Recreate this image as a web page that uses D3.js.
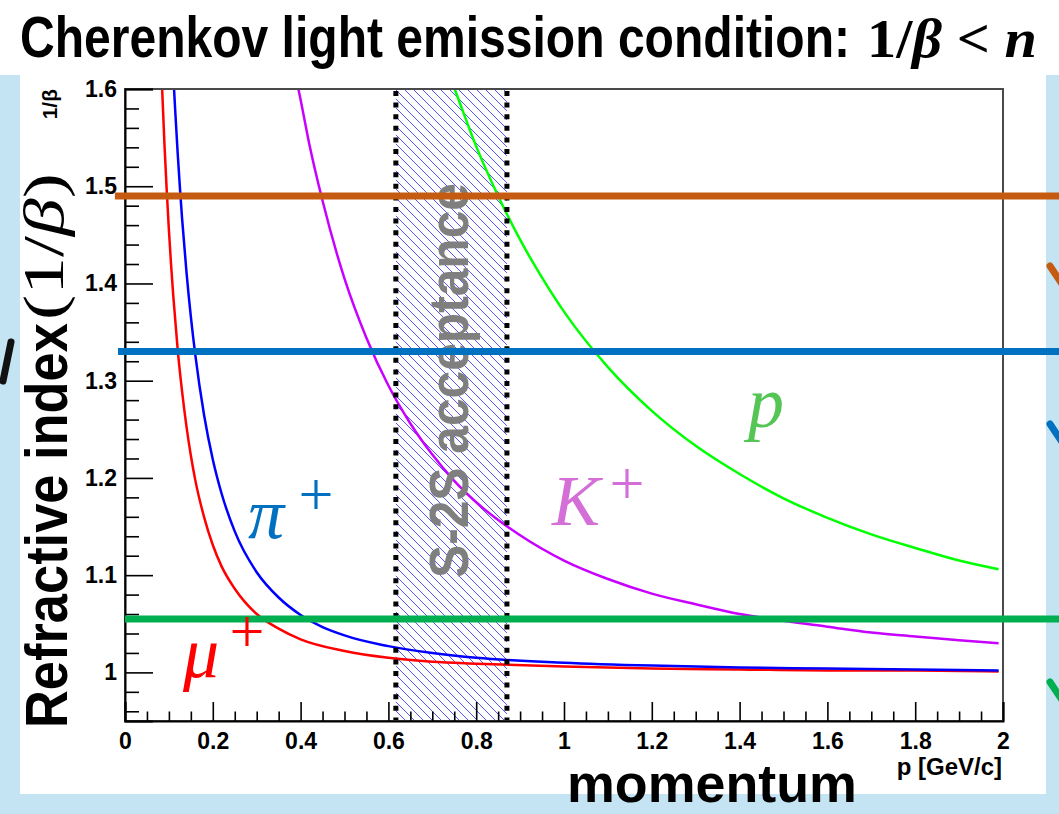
<!DOCTYPE html>
<html>
<head>
<meta charset="utf-8">
<script src="https://cdn.jsdelivr.net/npm/d3@7"></script>
<style>
  html, body { margin: 0; padding: 0; background: #fff; }
  svg { display: block; }
</style>
</head>
<body>
<svg id="chart" width="1059" height="814"></svg>
<script>
// ---- data: momentum p [GeV/c] and 1/beta for each particle ----
const muonCurve = [[0.0846,1.600],[0.09,1.542],[0.095,1.496],[0.10,1.455],[0.105,1.419],[0.11,1.387],[0.12,1.332],[0.13,1.289],[0.14,1.253],[0.15,1.223],[0.16,1.198],[0.18,1.160],[0.20,1.131],[0.22,1.109],[0.25,1.086],[0.30,1.060],[0.35,1.045],[0.40,1.034],[0.50,1.022],[0.60,1.015],[0.70,1.011],[0.80,1.009],[1.00,1.006],[1.20,1.004],[1.40,1.003],[1.60,1.002],[1.80,1.002],[1.99,1.001]];
const pionCurve = [[0.1117,1.600],[0.115,1.573],[0.12,1.534],[0.125,1.499],[0.13,1.467],[0.14,1.412],[0.15,1.366],[0.16,1.327],[0.18,1.265],[0.20,1.219],[0.22,1.184],[0.25,1.145],[0.30,1.103],[0.35,1.077],[0.40,1.059],[0.50,1.038],[0.60,1.027],[0.70,1.020],[0.80,1.015],[1.00,1.010],[1.20,1.007],[1.40,1.005],[1.60,1.004],[1.80,1.003],[1.99,1.002]];
const kaonCurve = [[0.395,1.600],[0.40,1.589],[0.42,1.543],[0.45,1.485],[0.50,1.405],[0.55,1.344],[0.60,1.295],[0.65,1.256],[0.70,1.224],[0.75,1.197],[0.80,1.175],[0.90,1.141],[1.00,1.115],[1.10,1.096],[1.20,1.081],[1.30,1.070],[1.40,1.060],[1.50,1.053],[1.60,1.047],[1.70,1.041],[1.80,1.037],[1.90,1.033],[1.99,1.030]];
const protonCurve = [[0.751,1.600],[0.76,1.589],[0.80,1.541],[0.85,1.490],[0.90,1.445],[0.95,1.406],[1.00,1.371],[1.10,1.314],[1.20,1.269],[1.30,1.233],[1.40,1.204],[1.50,1.179],[1.60,1.159],[1.70,1.142],[1.80,1.128],[1.90,1.115],[1.99,1.106]];

const curveNames  = ["mu", "pi", "K", "p"];
const curveColors = ["#ff0000", "#0000ff", "#c800ff", "#00ff00"];

// refractive indices of the radiators (horizontal bars)
const refIndex  = [1.49, 1.33, 1.055];
const refColors = ["#c55a11", "#0070c0", "#00b050"];
const refStartP = [-0.023, -0.016, 0.0];

// S-2S momentum acceptance
const acceptance = [0.617, 0.870];

// axis ticks
const xTicks      = [0, 0.2, 0.4, 0.6, 0.8, 1.0, 1.2, 1.4, 1.6, 1.8, 2.0];
const xTickLabels = ["0", "0.2", "0.4", "0.6", "0.8", "1", "1.2", "1.4", "1.6", "1.8", "2"];
const yTicks      = [1.0, 1.1, 1.2, 1.3, 1.4, 1.5, 1.6];
const yTickLabels = ["1", "1.1", "1.2", "1.3", "1.4", "1.5", "1.6"];

// ---- layout ----
const W = 1059, H = 814;
const plot = { left: 125, right: 1003, top: 89, bottom: 721 };

const svg = d3.select("#chart");
const x = d3.scaleLinear().domain([0, 2]).range([plot.left, plot.right]);
const y = d3.scaleLinear().domain([0.95, 1.6]).range([plot.bottom, plot.top]);

// squeeze a text along its own baseline to a given length
function fitText(sel, base, target) {
  const w = sel.node().getComputedTextLength();
  sel.attr("transform", `${base} scale(${(target / w).toFixed(4)},1)`);
}

// page background: white with a light-blue frame around the figure panel
svg.append("rect").attr("x", 0).attr("y", 0).attr("width", W).attr("height", H).attr("fill", "#ffffff");
svg.append("rect").attr("x", 0).attr("y", 75).attr("width", W).attr("height", H - 75).attr("fill", "#c4e3f3");
svg.append("rect").attr("x", 20).attr("y", 60).attr("width", 1026).attr("height", 734).attr("fill", "#ffffff");

const defs = svg.append("defs");
defs.append("clipPath").attr("id", "plotClip")
  .append("rect")
  .attr("x", plot.left).attr("y", plot.top)
  .attr("width", plot.right - plot.left).attr("height", plot.bottom - plot.top);

const hatch = defs.append("pattern")
  .attr("id", "hatch")
  .attr("patternUnits", "userSpaceOnUse")
  .attr("width", 9).attr("height", 9);
hatch.append("path")
  .attr("d", "M-1,-1 L10,10 M-1,8 L1,10 M8,-1 L10,1")
  .attr("stroke", "#5555ff").attr("stroke-width", 1).attr("fill", "none");

// acceptance band
svg.append("rect")
  .attr("x", x(acceptance[0])).attr("y", plot.top)
  .attr("width", x(acceptance[1]) - x(acceptance[0]))
  .attr("height", plot.bottom - plot.top)
  .attr("fill", "url(#hatch)");

// 1/beta curves
const line = d3.line()
  .x(d => x(d[0])).y(d => y(d[1]))
  .curve(d3.curveMonotoneX);
const curves = [muonCurve, pionCurve, kaonCurve, protonCurve];
const curveLayer = svg.append("g").attr("clip-path", "url(#plotClip)");
curves.forEach((c, i) => {
  curveLayer.append("path")
    .attr("class", "curve-" + curveNames[i])
    .attr("d", line(c))
    .attr("fill", "none")
    .attr("stroke", curveColors[i])
    .attr("stroke-width", 2.5);
});

// dotted borders of the acceptance band
svg.selectAll("line.acc")
  .data(acceptance)
  .enter().append("line")
  .attr("class", "acc")
  .attr("x1", d => x(d)).attr("x2", d => x(d))
  .attr("y1", plot.top + 2).attr("y2", plot.bottom)
  .attr("stroke", "#000").attr("stroke-width", 5)
  .attr("stroke-dasharray", "5,6.6");

// frame
svg.append("rect")
  .attr("x", plot.left).attr("y", plot.top)
  .attr("width", plot.right - plot.left).attr("height", plot.bottom - plot.top)
  .attr("fill", "none").attr("stroke", "#4a4a4a").attr("stroke-width", 2);

// axes
const tickFont = "'Liberation Sans', Arial, sans-serif";
const xMinor = d3.range(0, 2.0001, 0.05).filter(v => Math.abs(v * 5 - Math.round(v * 5)) > 1e-6);
const yMinor = d3.range(0.96, 1.6001, 0.02).filter(v => Math.abs(v * 10 - Math.round(v * 10)) > 1e-6);

const xAxis = d3.axisBottom(x)
  .tickValues(xTicks)
  .tickFormat((d, i) => xTickLabels[i])
  .tickSize(-19).tickPadding(12);
const gx = svg.append("g").attr("transform", `translate(0,${plot.bottom})`).call(xAxis);
gx.select(".domain").attr("stroke", "#000").attr("stroke-width", 2);
gx.selectAll(".tick line").attr("stroke", "#000").attr("stroke-width", 1.6);
gx.selectAll(".tick text")
  .attr("font-family", tickFont).attr("font-weight", "bold").attr("font-size", 23).attr("fill", "#000");

const gxm = svg.append("g").attr("transform", `translate(0,${plot.bottom})`)
  .call(d3.axisBottom(x).tickValues(xMinor).tickSize(-9.5).tickFormat(""));
gxm.select(".domain").remove();
gxm.selectAll(".tick line").attr("stroke", "#000").attr("stroke-width", 1.6);

const yAxis = d3.axisLeft(y)
  .tickValues(yTicks)
  .tickFormat((d, i) => yTickLabels[i])
  .tickSize(-28).tickPadding(8);
const gy = svg.append("g").attr("transform", `translate(${plot.left},0)`).call(yAxis);
gy.select(".domain").attr("stroke", "#000").attr("stroke-width", 2);
gy.selectAll(".tick line").attr("stroke", "#000").attr("stroke-width", 1.6);
gy.selectAll(".tick text")
  .attr("font-family", tickFont).attr("font-weight", "bold").attr("font-size", 23).attr("fill", "#000");

const gym = svg.append("g").attr("transform", `translate(${plot.left},0)`)
  .call(d3.axisLeft(y).tickValues(yMinor).tickSize(-14).tickFormat(""));
gym.select(".domain").remove();
gym.selectAll(".tick line").attr("stroke", "#000").attr("stroke-width", 1.6);

// small axis titles of the plot
svg.append("text")
  .attr("transform", `translate(57,${plot.top}) rotate(-90)`)
  .attr("text-anchor", "end")
  .attr("font-family", tickFont).attr("font-weight", "bold").attr("font-size", 21)
  .text("1/β");
svg.append("text")
  .attr("x", 1002).attr("y", 775)
  .attr("text-anchor", "end")
  .attr("font-family", tickFont).attr("font-weight", "bold").attr("font-size", 24)
  .text("p [GeV/c]");

// acceptance label
const accLabel = svg.append("text")
  .attr("font-family", tickFont).attr("font-weight", "bold").attr("font-size", 56)
  .attr("fill", "#7f7f7f")
  .text("S-2S acceptance");
fitText(accLabel, "translate(468,578) rotate(-90)", 395);

// refractive index bars
svg.selectAll("line.ref")
  .data(refIndex)
  .enter().append("line")
  .attr("class", "ref")
  .attr("x1", (d, i) => x(refStartP[i])).attr("x2", W + 2)
  .attr("y1", d => y(d)).attr("y2", d => y(d))
  .attr("stroke", (d, i) => refColors[i])
  .attr("stroke-width", 7);

// particle labels
const mathFont = "'Liberation Serif', 'Times New Roman', serif";
const particleLabels = [
  { base: "μ", color: "#ff0000", bx: 183, by: 677, px: 247, py: 636 },
  { base: "π", color: "#0070c0", bx: 248, by: 538, px: 316, py: 499 },
  { base: "K", color: "#d36fd6", bx: 552, by: 525, px: 627, py: 488 },
  { base: "p", color: "#55c655", bx: 748, by: 427, px: null, py: null }
];
particleLabels.forEach(l => {
  svg.append("text")
    .attr("x", l.bx).attr("y", l.by)
    .attr("font-family", mathFont).attr("font-style", "italic").attr("font-size", 72)
    .attr("fill", l.color)
    .text(l.base);
  if (l.px !== null) {
    svg.append("text")
      .attr("x", l.px).attr("y", l.py + 16)
      .attr("text-anchor", "middle")
      .attr("font-family", mathFont).attr("font-size", 62)
      .attr("fill", l.color)
      .text("+");
  }
});

// slide title
const slideFont = "'Liberation Sans', Arial, sans-serif";
const title = svg.append("text")
  .attr("font-family", slideFont).attr("font-weight", "bold").attr("font-size", 58)
  .text("Cherenkov light emission condition:");
fitText(title, "translate(20,57)", 830);
const tMath = svg.append("text")
  .attr("font-family", mathFont).attr("font-weight", "bold").attr("font-size", 54);
tMath.append("tspan").text("1/");
tMath.append("tspan").attr("font-style", "italic").text("β");
tMath.append("tspan").text(" < ");
tMath.append("tspan").attr("font-style", "italic").text("n");
fitText(tMath, "translate(867,57)", 170);

// large axis titles
const yTitle = svg.append("text")
  .attr("font-family", slideFont).attr("font-weight", "bold").attr("font-size", 60)
  .text("Refractive index");
fitText(yTitle, "translate(67,728) rotate(-90)", 405);
const yMath = svg.append("text")
  .attr("font-family", mathFont).attr("font-size", 56);
yMath.append("tspan").text("(1/");
yMath.append("tspan").attr("font-style", "italic").text("β");
yMath.append("tspan").text(")");
fitText(yMath, "translate(63,320) rotate(-90)", 147);

const xTitle = svg.append("text")
  .attr("font-family", slideFont).attr("font-weight", "bold").attr("font-size", 54)
  .text("momentum");
fitText(xTitle, "translate(567,802)", 290);

// fragments of neighbouring slide content at the edges
svg.append("path")
  .attr("d", "M11,342 L3,381")
  .attr("stroke", "#111").attr("stroke-width", 7).attr("stroke-linecap", "round");
const edgeMarks = [
  { c: "#c55a11", y0: 266 },
  { c: "#0070c0", y0: 424 },
  { c: "#00b050", y0: 682 }
];
edgeMarks.forEach(m => {
  svg.append("path")
    .attr("d", `M1050,${m.y0} L1062,${m.y0 + 18}`)
    .attr("stroke", m.c).attr("stroke-width", 7).attr("stroke-linecap", "round");
});
</script>
</body>
</html>
